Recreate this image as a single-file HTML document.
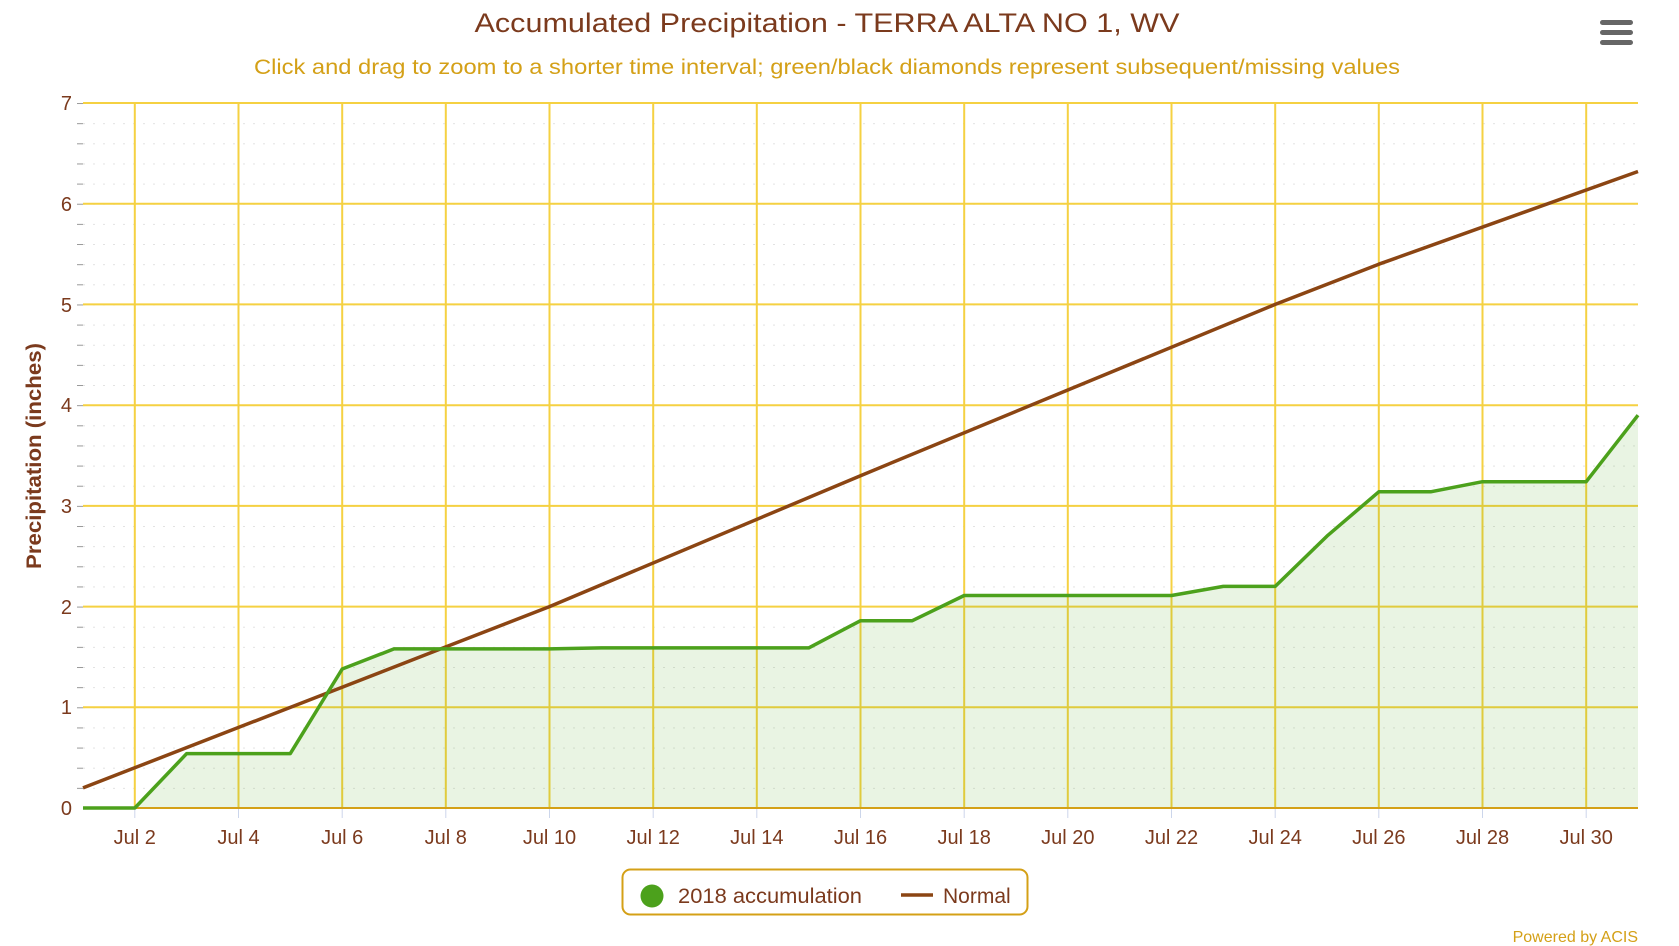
<!DOCTYPE html>
<html><head><meta charset="utf-8"><style>
html,body{margin:0;padding:0;background:#fff;}
svg{display:block;font-family:"Liberation Sans",sans-serif;}
</style></head><body>
<svg width="1679" height="946" viewBox="0 0 1679 946" xmlns="http://www.w3.org/2000/svg">
<defs>
<pattern id="minor" patternUnits="userSpaceOnUse" x="0" y="808" width="1679" height="20.142">
<line x1="83" y1="0.5" x2="1638" y2="0.5" stroke="#e2e2e2" stroke-width="1" stroke-dasharray="2,8"/>
<line x1="77" y1="0.5" x2="83" y2="0.5" stroke="#999" stroke-width="1"/>
</pattern>
</defs>
<text x="827" y="32" text-anchor="middle" font-size="27" fill="#7b3a1d" textLength="705" lengthAdjust="spacingAndGlyphs">Accumulated Precipitation - TERRA ALTA NO 1, WV</text>
<text x="827" y="74" text-anchor="middle" font-size="21" fill="#d4a017" textLength="1146" lengthAdjust="spacingAndGlyphs">Click and drag to zoom to a shorter time interval; green/black diamonds represent subsequent/missing values</text>
<g fill="#666"><rect x="1600" y="20" width="33" height="5" rx="2.5"/><rect x="1600" y="30" width="33" height="5" rx="2.5"/><rect x="1600" y="40" width="33" height="5" rx="2.5"/></g>
<rect x="76" y="103" width="1562" height="705" fill="url(#minor)"/>
<g stroke="#f5d142" stroke-width="2">
<line x1="83" y1="103" x2="1638" y2="103"/><line x1="83" y1="203.7" x2="1638" y2="203.7"/><line x1="83" y1="304.4" x2="1638" y2="304.4"/><line x1="83" y1="405.2" x2="1638" y2="405.2"/><line x1="83" y1="505.9" x2="1638" y2="505.9"/><line x1="83" y1="606.6" x2="1638" y2="606.6"/><line x1="83" y1="707.3" x2="1638" y2="707.3"/>
<line x1="134.8" y1="103" x2="134.8" y2="808"/><line x1="238.5" y1="103" x2="238.5" y2="808"/><line x1="342.2" y1="103" x2="342.2" y2="808"/><line x1="445.8" y1="103" x2="445.8" y2="808"/><line x1="549.5" y1="103" x2="549.5" y2="808"/><line x1="653.2" y1="103" x2="653.2" y2="808"/><line x1="756.8" y1="103" x2="756.8" y2="808"/><line x1="860.5" y1="103" x2="860.5" y2="808"/><line x1="964.2" y1="103" x2="964.2" y2="808"/><line x1="1067.8" y1="103" x2="1067.8" y2="808"/><line x1="1171.5" y1="103" x2="1171.5" y2="808"/><line x1="1275.2" y1="103" x2="1275.2" y2="808"/><line x1="1378.8" y1="103" x2="1378.8" y2="808"/><line x1="1482.5" y1="103" x2="1482.5" y2="808"/><line x1="1586.2" y1="103" x2="1586.2" y2="808"/>
</g>
<g stroke="#ccd6eb" stroke-width="1">
<line x1="134.8" y1="808" x2="134.8" y2="818"/><line x1="238.5" y1="808" x2="238.5" y2="818"/><line x1="342.2" y1="808" x2="342.2" y2="818"/><line x1="445.8" y1="808" x2="445.8" y2="818"/><line x1="549.5" y1="808" x2="549.5" y2="818"/><line x1="653.2" y1="808" x2="653.2" y2="818"/><line x1="756.8" y1="808" x2="756.8" y2="818"/><line x1="860.5" y1="808" x2="860.5" y2="818"/><line x1="964.2" y1="808" x2="964.2" y2="818"/><line x1="1067.8" y1="808" x2="1067.8" y2="818"/><line x1="1171.5" y1="808" x2="1171.5" y2="818"/><line x1="1275.2" y1="808" x2="1275.2" y2="818"/><line x1="1378.8" y1="808" x2="1378.8" y2="818"/><line x1="1482.5" y1="808" x2="1482.5" y2="818"/><line x1="1586.2" y1="808" x2="1586.2" y2="818"/>
</g>
<polygon fill="#4ca11c" fill-opacity="0.12" points="83,808 134.8,808 186.7,753.6 238.5,753.6 290.3,753.6 342.2,669 394,648.9 445.8,648.9 497.7,648.9 549.5,648.9 601.3,647.9 653.2,647.9 705,647.9 756.8,647.9 808.7,647.9 860.5,620.7 912.3,620.7 964.2,595.5 1016,595.5 1067.8,595.5 1119.7,595.5 1171.5,595.5 1223.3,586.4 1275.2,586.4 1327,536.1 1378.8,491.8 1430.7,491.8 1482.5,481.7 1534.3,481.7 1586.2,481.7 1638,415.2 1638,808"/>
<line x1="83" y1="808" x2="1638" y2="808" stroke="#d4a017" stroke-width="2"/>
<polyline fill="none" stroke="#8b4513" stroke-width="3.5" stroke-linejoin="round" points="83,787.9 445.8,646.9 549.5,606.6 860.5,475.7 1067.8,390 1275.2,304.4 1378.8,264.2 1638,171.5"/>
<polyline fill="none" stroke="#4ca11c" stroke-width="3.5" stroke-linejoin="round" points="83,808 134.8,808 186.7,753.6 238.5,753.6 290.3,753.6 342.2,669 394,648.9 445.8,648.9 497.7,648.9 549.5,648.9 601.3,647.9 653.2,647.9 705,647.9 756.8,647.9 808.7,647.9 860.5,620.7 912.3,620.7 964.2,595.5 1016,595.5 1067.8,595.5 1119.7,595.5 1171.5,595.5 1223.3,586.4 1275.2,586.4 1327,536.1 1378.8,491.8 1430.7,491.8 1482.5,481.7 1534.3,481.7 1586.2,481.7 1638,415.2"/>
<g font-size="20" fill="#7b3a1d" text-anchor="end">
<text x="72" y="815">0</text><text x="72" y="714">1</text><text x="72" y="614">2</text><text x="72" y="513">3</text><text x="72" y="412">4</text><text x="72" y="312">5</text><text x="72" y="211">6</text><text x="72" y="110">7</text>
</g>
<g font-size="20" fill="#7b3a1d" text-anchor="middle">
<text x="134.8" y="844">Jul 2</text><text x="238.5" y="844">Jul 4</text><text x="342.2" y="844">Jul 6</text><text x="445.8" y="844">Jul 8</text><text x="549.5" y="844">Jul 10</text><text x="653.2" y="844">Jul 12</text><text x="756.8" y="844">Jul 14</text><text x="860.5" y="844">Jul 16</text><text x="964.2" y="844">Jul 18</text><text x="1067.8" y="844">Jul 20</text><text x="1171.5" y="844">Jul 22</text><text x="1275.2" y="844">Jul 24</text><text x="1378.8" y="844">Jul 26</text><text x="1482.5" y="844">Jul 28</text><text x="1586.2" y="844">Jul 30</text>
</g>
<text transform="translate(41,456) rotate(-90)" text-anchor="middle" font-size="21" font-weight="bold" fill="#7b3a1d" textLength="226" lengthAdjust="spacingAndGlyphs">Precipitation (inches)</text>
<rect x="622.5" y="869.5" width="405" height="45" rx="8" fill="#fff" stroke="#d4a017" stroke-width="2"/>
<circle cx="652" cy="896" r="11.5" fill="#4ca11c"/>
<text x="678" y="903" font-size="21" fill="#7b3a1d" textLength="184" lengthAdjust="spacingAndGlyphs">2018 accumulation</text>
<line x1="901" y1="895" x2="933" y2="895" stroke="#8b4513" stroke-width="3.5"/>
<text x="943" y="903" font-size="21" fill="#7b3a1d">Normal</text>
<text x="1638" y="942" text-anchor="end" font-size="16" fill="#d4a017">Powered by ACIS</text>
</svg>
</body></html>
